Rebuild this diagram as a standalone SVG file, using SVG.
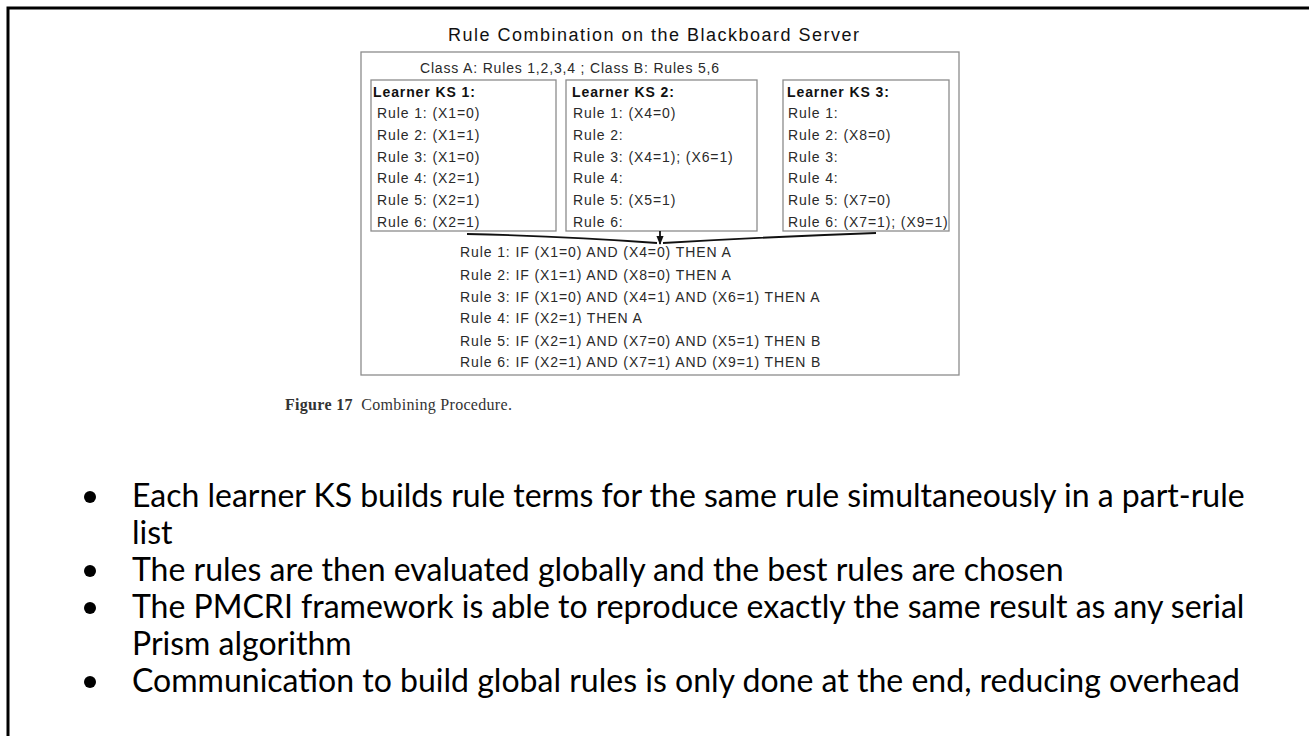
<svg xmlns="http://www.w3.org/2000/svg" width="1309" height="736" viewBox="0 0 1309 736">
  <defs>
    <style>
      .fig { font-family: "Liberation Sans", Arial, sans-serif; fill: #2a2a2a; letter-spacing: 0.9px; }
      .title { font-size: 18px; fill: #111; letter-spacing: 0; }
      .small { font-size: 14px; }
      .head { font-size: 14px; font-weight: bold; fill: #111; }
      .box { fill: none; stroke: #8c8c8c; stroke-width: 1.3; }
      .cap { font-family: "Liberation Serif", "Times New Roman", serif; font-size: 16px; fill: #333; letter-spacing: 0.3px; }
      .bullet { font-family: Lato, "Open Sans", sans-serif; font-size: 32px; fill: #000; }
      .conn { fill: none; stroke: #111; stroke-width: 1.8; }
    </style>
    <marker id="arrow" viewBox="0 0 10 10" refX="9" refY="5" markerWidth="5" markerHeight="5" orient="auto">
      <path d="M0,1 L10,5 L0,9 Z" fill="#111"/>
    </marker>
  </defs>

  <rect width="1309" height="736" fill="#fff"/>
  <!-- slide frame -->
  <rect x="8" y="8" width="1320" height="760" fill="none" stroke="#000" stroke-width="3"/>

  <!-- figure frame, title and class line -->
  <g id="figure">
    <text class="fig title" x="448" y="41" textLength="411" lengthAdjust="spacing">Rule Combination on the Blackboard Server</text>
    <rect class="box" x="361" y="52" width="598" height="323"/>
    <text class="fig small" x="420" y="73" textLength="300" lengthAdjust="spacing">Class A: Rules 1,2,3,4 ; Class B: Rules 5,6</text>
  </g>

  <g id="ks1">
    <rect class="box" x="371" y="80" width="185" height="151"/>
    <text class="fig head" x="373" y="97">Learner KS 1:</text>
    <g class="fig small">
      <text x="377" y="118">Rule 1: (X1=0)</text>
      <text x="377" y="140">Rule 2: (X1=1)</text>
      <text x="377" y="162">Rule 3: (X1=0)</text>
      <text x="377" y="183">Rule 4: (X2=1)</text>
      <text x="377" y="205">Rule 5: (X2=1)</text>
      <text x="377" y="227">Rule 6: (X2=1)</text>
    </g>
  </g>

  <g id="ks2">
    <rect class="box" x="566" y="80" width="191" height="151"/>
    <text class="fig head" x="572" y="97">Learner KS 2:</text>
    <g class="fig small">
      <text x="573" y="118">Rule 1: (X4=0)</text>
      <text x="573" y="140">Rule 2:</text>
      <text x="573" y="162">Rule 3: (X4=1); (X6=1)</text>
      <text x="573" y="183">Rule 4:</text>
      <text x="573" y="205">Rule 5: (X5=1)</text>
      <text x="573" y="227">Rule 6:</text>
    </g>
  </g>

  <g id="ks3">
    <rect class="box" x="783" y="80" width="166" height="151"/>
    <text class="fig head" x="787" y="97">Learner KS 3:</text>
    <g class="fig small">
      <text x="788" y="118">Rule 1:</text>
      <text x="788" y="140">Rule 2: (X8=0)</text>
      <text x="788" y="162">Rule 3:</text>
      <text x="788" y="183">Rule 4:</text>
      <text x="788" y="205">Rule 5: (X7=0)</text>
      <text x="788" y="227">Rule 6: (X7=1); (X9=1)</text>
    </g>
  </g>

  <g id="connectors">
    <path class="conn" d="M467,234 Q565,236 657,243"/>
    <path class="conn" d="M876,233 Q765,237 663,243"/>
    <path class="conn" d="M660,231 L660,244" marker-end="url(#arrow)"/>
  </g>

  <g id="combined" class="fig small">
    <text x="460" y="257">Rule 1: IF (X1=0) AND (X4=0) THEN A</text>
    <text x="460" y="280">Rule 2: IF (X1=1) AND (X8=0) THEN A</text>
    <text x="460" y="302">Rule 3: IF (X1=0) AND (X4=1) AND (X6=1) THEN A</text>
    <text x="460" y="323">Rule 4: IF (X2=1) THEN A</text>
    <text x="460" y="346">Rule 5: IF (X2=1) AND (X7=0) AND (X5=1) THEN B</text>
    <text x="460" y="367">Rule 6: IF (X2=1) AND (X7=1) AND (X9=1) THEN B</text>
  </g>

  <text class="cap" x="285" y="410" xml:space="preserve"><tspan font-weight="bold">Figure 17</tspan>  Combining Procedure.</text>

  <!-- bullet list -->
  <g id="bullets">
    <g fill="#000">
      <circle cx="90" cy="497" r="6"/>
      <circle cx="90" cy="571" r="6"/>
      <circle cx="90" cy="608" r="6"/>
      <circle cx="90" cy="682" r="6"/>
    </g>
    <text class="bullet" x="132" y="507">Each learner KS builds rule terms for the same rule simultaneously in a part-rule</text>
    <text class="bullet" x="132" y="544">list</text>
    <text class="bullet" x="132" y="581">The rules are then evaluated globally and the best rules are chosen</text>
    <text class="bullet" x="132" y="618">The PMCRI framework is able to reproduce exactly the same result as any serial</text>
    <text class="bullet" x="132" y="655">Prism algorithm</text>
    <text class="bullet" x="132" y="692" textLength="1108" lengthAdjust="spacingAndGlyphs">Communication to build global rules is only done at the end, reducing overhead</text>
  </g>
</svg>
